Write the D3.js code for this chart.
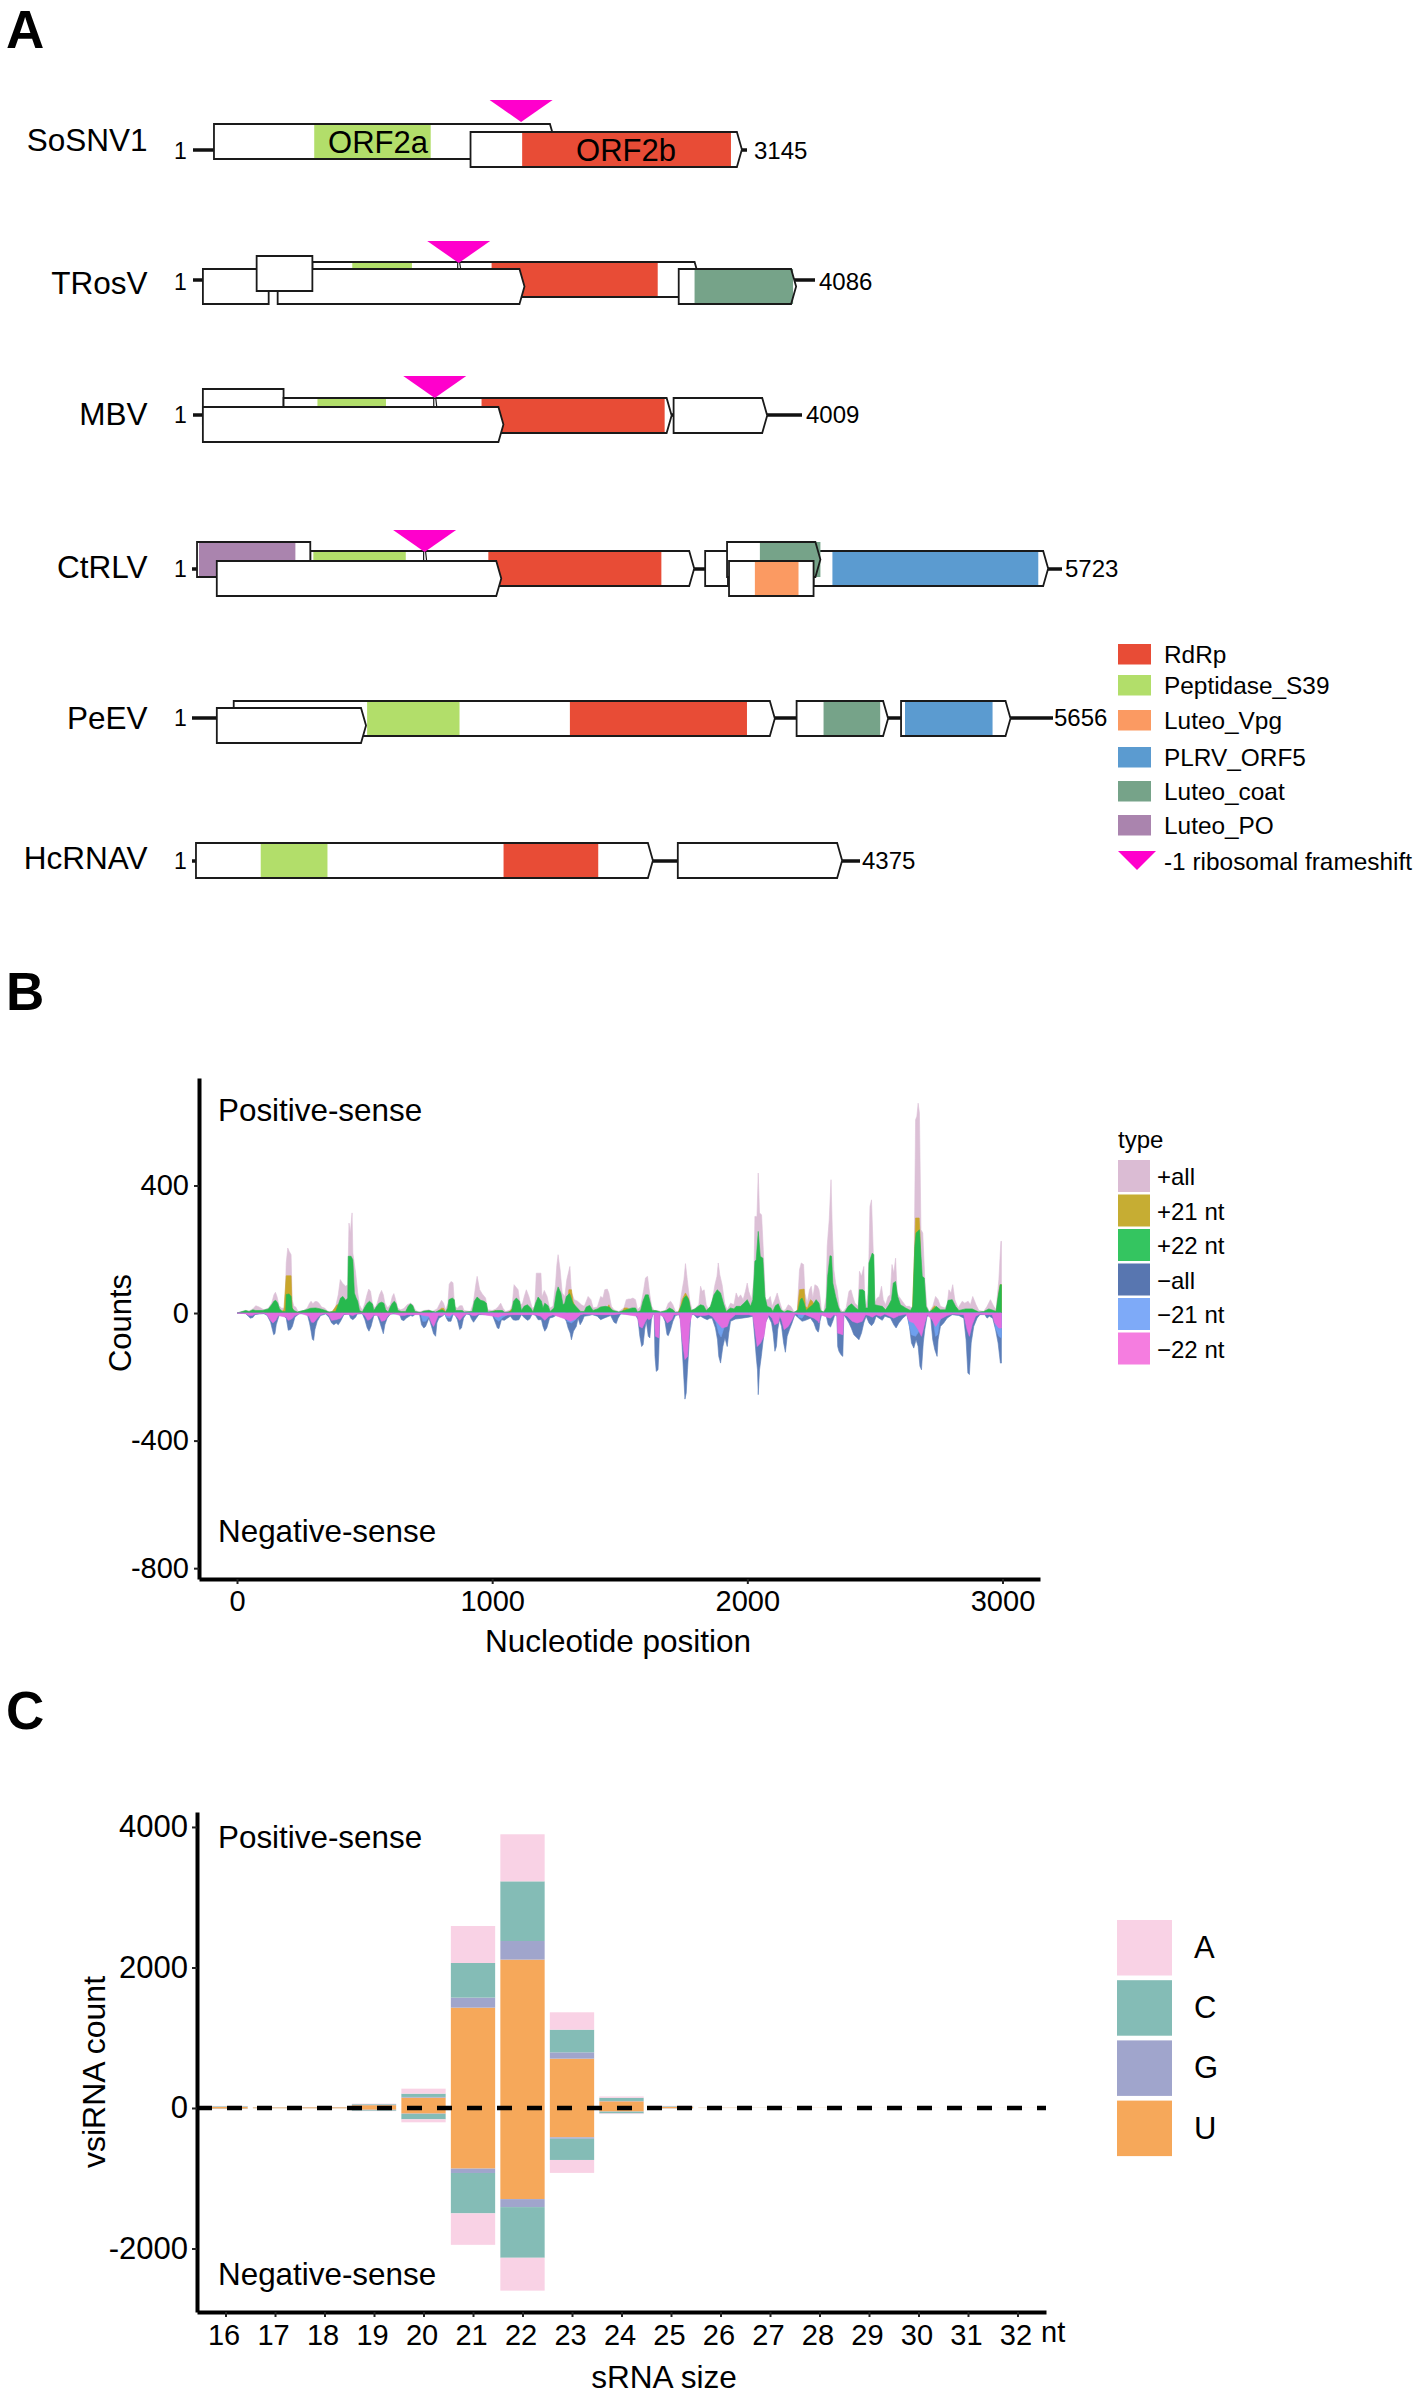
<!DOCTYPE html>
<html>
<head>
<meta charset="utf-8">
<script src="https://cdn.jsdelivr.net/npm/d3@7"></script>
<style>
  body { margin: 0; background: #fff; }
  svg { display: block; }
  text { font-family: "Liberation Sans", Arial, sans-serif; fill: #000; }
  .axis path { stroke: #000; stroke-width: 4; fill: none; }
  .axis line { stroke: #222; stroke-width: 2; }
  .axis text { font-family: "Liberation Sans", Arial, sans-serif; fill: #000; }
</style>
</head>
<body>
<svg id="fig" width="1418" height="2393"></svg>
<script>
// ---- panel A data: genomes, in nucleotides ----
const viruses = ['SoSNV1', 'TRosV', 'MBV', 'CtRLV', 'PeEV', 'HcRNAV'];
const genomeLengths = [3145, 4086, 4009, 5723, 5656, 4375];
// each ORF: [start, end, reading frame row, has arrow tip, domains [start, end, name]]
const orfsSoSNV1 = [
  [120, 2055, 0, true, [[689, 1350, 'Peptidase_S39']]],
  [1576, 3116, 1, true, [[1869, 3054, 'RdRp']]],
];
const orfsTRosV = [
  [785, 3328, 1, true, [[1047, 1439, 'Peptidase_S39'], [1962, 3053, 'RdRp']]],
  [66, 498, 2, false, []],
  [557, 2178, 2, true, []],
  [419, 785, 0, false, []],
  [3191, 3962, 2, true, [[3295, 3942, 'Luteo_coat']]],
];
const orfsMBV = [
  [66, 597, 0, false, []],
  [597, 3151, 1, true, [[820, 1271, 'Peptidase_S39'], [1900, 3105, 'RdRp']]],
  [66, 2044, 2, true, []],
  [3164, 3780, 1, true, []],
];
const orfsCtRLV = [
  [779, 3304, 1, true, [[799, 1407, 'Peptidase_S39'], [1950, 3088, 'RdRp']]],
  [34, 779, 0, false, [[47, 681, 'Luteo_PO']]],
  [3376, 3526, 1, false, []],
  [4089, 5632, 1, true, [[4213, 5567, 'PLRV_ORF5']]],
  [3520, 4134, 0, true, [[3736, 4134, 'Luteo_coat']]],
  [164, 2035, 2, true, []],
  [3533, 4089, 2, false, [[3703, 3990, 'Luteo_Vpg']]],
];
const orfsPeEV = [
  [275, 3829, 0, true, [[1151, 1758, 'Peptidase_S39'], [2483, 3646, 'RdRp']]],
  [164, 1144, 1, true, []],
  [3972, 4573, 0, true, [[4149, 4521, 'Luteo_coat']]],
  [4658, 5377, 0, true, [[4684, 5259, 'PLRV_ORF5']]],
];
const orfsHcRNAV = [
  [27, 3019, 0, true, [[451, 888, 'Peptidase_S39'], [2041, 2661, 'RdRp']]],
  [3182, 4258, 0, true, []],
];
const allOrfs = [orfsSoSNV1, orfsTRosV, orfsMBV, orfsCtRLV, orfsPeEV, orfsHcRNAV];
const frameshiftSites = [1863, 1746, 1592, 1531, null, null];
const orfNames = ['ORF2a', 'ORF2b'];
const domainNames = ['RdRp', 'Peptidase_S39', 'Luteo_Vpg', 'PLRV_ORF5', 'Luteo_coat', 'Luteo_PO'];
const domainColors = ['#e84c36', '#b2de6a', '#fb9a62', '#5b9bd0', '#76a389', '#aa84ae'];

// ---- panel B data: coverage, [nucleotide, count] ----
const plusAll = [[0,0],[34,8],[47,6],[62,13],[73,23],[86,19],[105,10],[122,15],[135,31],[144,57],[150,65],[156,52],[164,23],[174,15],[187,16],[192,157],[198,204],[204,193],[211,183],[215,42],[222,21],[229,19],[238,5],[261,8],[274,16],[283,31],[289,37],[296,29],[304,36],[312,36],[320,31],[330,19],[343,15],[354,5],[372,5],[385,21],[395,57],[403,105],[411,94],[424,84],[432,89],[437,282],[442,251],[449,314],[452,188],[463,125],[471,63],[478,26],[489,8],[499,31],[507,57],[514,75],[521,68],[528,31],[538,15],[547,31],[556,57],[564,71],[571,57],[577,31],[588,16],[598,26],[606,52],[612,61],[619,42],[627,16],[638,10],[651,14],[664,26],[677,31],[686,26],[697,8],[710,3],[729,8],
  [749,10],[762,5],[781,13],[791,29],[798,40],[806,31],[814,10],[823,30],[828,90],[835,99],[843,95],[849,20],[860,15],[869,23],[879,23],[886,8],[911,5],[922,30],[931,85],[937,115],[947,73],[957,60],[970,47],[978,10],[996,8],[1009,12],[1019,20],[1029,31],[1038,15],[1048,5],[1067,10],[1074,25],[1081,89],[1097,73],[1105,25],[1114,30],[1121,52],[1129,73],[1139,52],[1152,15],[1162,20],[1168,125],[1186,125],[1190,50],[1199,71],[1210,52],[1220,15],[1233,21],[1243,90],[1248,150],[1253,183],[1261,135],[1269,63],[1279,52],[1287,105],[1299,146],[1305,65],[1316,42],[1329,37],[1344,26],[1355,21],[1363,37],[1370,52],[1381,42],[1390,16],[1406,19],[1419,52],[1428,47],[1435,73],[1445,75],[1451,63],[1461,21],[1471,10],[1490,5],[1510,16],[1519,42],[1529,44],
  [1536,44],[1545,47],[1555,42],[1563,10],[1575,21],[1587,73],[1594,110],[1602,115],[1610,63],[1618,21],[1627,8],[1640,8],[1653,5],[1672,8],[1683,31],[1692,37],[1701,26],[1711,5],[1724,5],[1735,63],[1744,105],[1750,155],[1757,105],[1766,42],[1776,8],[1789,16],[1802,26],[1809,84],[1815,68],[1823,73],[1831,26],[1841,10],[1854,37],[1865,89],[1873,115],[1878,157],[1884,120],[1893,89],[1903,31],[1913,10],[1926,31],[1939,26],[1948,63],[1956,47],[1965,57],[1975,42],[1984,68],[1991,94],[1997,68],[2008,42],[2017,105],[2021,303],[2029,303],[2034,439],[2039,314],[2047,308],[2055,178],[2062,42],[2073,42],[2081,52],[2088,21],[2099,42],[2108,63],[2117,37],[2128,8],[2140,10],[2151,26],[2161,21],[2173,5],[2186,5],[2195,136],[2202,157],[2211,152],[2216,63],[2225,31],[2234,73],[2241,84],[2247,47],[2255,89],[2265,84],
  [2271,73],[2275,52],[2281,5],[2290,5],[2299,52],[2303,209],[2311,293],[2318,418],[2323,261],[2329,136],[2336,94],[2342,73],[2351,16],[2364,3],[2377,16],[2388,68],[2396,73],[2403,52],[2411,31],[2424,21],[2429,131],[2437,115],[2446,146],[2450,31],[2455,21],[2463,63],[2470,334],[2476,355],[2483,188],[2489,31],[2498,47],[2507,52],[2515,84],[2522,42],[2531,26],[2541,52],[2549,57],[2556,152],[2563,125],[2570,172],[2576,63],[2583,52],[2596,37],[2611,21],[2624,21],[2632,16],[2641,31],[2648,606],[2653,617],[2658,658],[2663,627],[2669,261],[2676,251],[2684,105],[2692,21],[2702,5],[2715,21],[2726,52],[2736,42],[2745,21],[2762,16],[2771,26],[2778,73],[2786,63],[2793,89],[2801,42],[2814,16],[2830,37],[2840,31],[2853,37],[2862,26],[2871,52],[2884,26],[2895,8],[2914,5],[2927,21],[2940,42],[2953,21],[2962,10],[2973,105],[2981,225],[2983,225]];
const plus21 = [[165,0],[183,10],[192,117],[211,117],[215,16],[222,5],[240,0],[360,0],[372,5],[382,16],[390,26],[398,26],[406,10],[420,0],[780,0],[788,8],[798,15],[806,15],[814,3],[825,0],[985,0],[996,3],[1009,8],[1015,3],[1025,0],[1050,0],[1061,3],[1069,10],[1077,12],[1087,10],[1095,0],[1285,0],[1295,73],[1305,73],[1311,37],[1321,16],[1329,5],[1340,0],[1435,0],[1445,15],[1451,26],[1459,13],[1470,0],[1495,0],[1503,3],[1511,16],[1522,16],[1529,13],[1540,0],[1720,0],[1731,20],[1737,42],[1750,63],[1761,47],[1769,10],[1780,0],[2175,0],[2186,3],[2195,73],[2213,75],[2218,21],[2226,16],[2238,42],[2245,37],[2252,26],[2262,0],[2635,0],[2645,209],[2648,298],[2662,298],[2665,251],[2669,110],[2680,0],[2705,0],[2715,16],[2723,23],[2735,0],[2955,0],[2965,10],[2973,63],[2978,89],[2983,89]];
const plus22 = [[0,0],[34,8],[47,5],[62,10],[73,8],[99,8],[122,13],[135,26],[144,37],[151,40],[159,31],[166,13],[177,5],[190,5],[192,58],[203,60],[211,52],[215,16],[222,8],[235,3],[270,10],[287,15],[307,16],[326,13],[346,8],[359,3],[385,5],[395,26],[404,47],[413,52],[424,40],[432,47],[434,178],[445,178],[452,167],[458,63],[465,47],[471,37],[478,8],[489,3],[499,19],[508,31],[517,37],[528,29],[534,8],[543,19],[554,31],[564,34],[573,31],[580,10],[590,3],[598,19],[606,31],[614,37],[621,29],[628,8],[641,5],[658,5],[668,21],[677,29],[686,23],[694,5],[716,2],[729,6],[749,8],
  [775,3],[788,8],[801,10],[814,3],[822,16],[827,42],[840,47],[848,42],[853,8],[866,8],[879,8],[886,3],[918,5],[926,37],[937,50],[951,40],[964,37],[973,31],[979,3],[1015,8],[1035,8],[1045,2],[1071,5],[1079,37],[1090,47],[1103,37],[1110,8],[1120,21],[1133,26],[1146,16],[1155,3],[1165,31],[1175,50],[1188,37],[1194,16],[1201,31],[1214,23],[1222,5],[1237,16],[1246,63],[1253,82],[1264,63],[1272,26],[1279,31],[1285,52],[1298,61],[1311,31],[1328,16],[1341,5],[1355,5],[1363,19],[1376,24],[1389,8],[1406,13],[1419,19],[1438,21],[1451,19],[1467,8],[1490,3],[1510,8],[1529,13],
  [1542,16],[1555,16],[1563,3],[1575,8],[1584,37],[1594,57],[1605,57],[1613,31],[1620,8],[1633,8],[1653,3],[1675,8],[1688,16],[1701,10],[1711,2],[1724,3],[1735,26],[1744,47],[1753,54],[1763,42],[1771,8],[1787,13],[1800,21],[1809,26],[1821,23],[1831,8],[1848,21],[1861,57],[1874,73],[1887,63],[1900,26],[1909,5],[1926,16],[1939,13],[1948,21],[1965,21],[1978,31],[1991,42],[2004,21],[2013,42],[2021,162],[2026,167],[2034,256],[2042,178],[2052,172],[2060,52],[2069,21],[2083,16],[2091,5],[2101,23],[2112,29],[2122,10],[2135,3],[2147,8],[2160,6],[2173,2],[2190,10],[2198,42],[2205,47],[2213,31],[2221,8],[2231,16],[2247,26],[2260,42],
  [2271,31],[2277,8],[2290,3],[2299,16],[2305,115],[2314,180],[2320,178],[2325,94],[2336,52],[2346,21],[2355,3],[2372,3],[2385,21],[2398,29],[2414,16],[2424,10],[2429,73],[2442,73],[2449,68],[2453,16],[2462,16],[2466,157],[2479,188],[2485,183],[2489,26],[2505,23],[2518,21],[2531,10],[2544,26],[2554,42],[2561,94],[2570,99],[2578,52],[2589,26],[2609,16],[2628,8],[2637,21],[2645,209],[2650,251],[2656,256],[2663,261],[2674,115],[2682,110],[2689,21],[2700,3],[2719,13],[2728,21],[2745,10],[2765,10],[2775,40],[2791,42],[2804,21],[2817,8],[2843,13],[2869,13],[2882,8],[2895,3],[2914,5],[2934,13],[2953,8],[2962,5],[2970,52],[2978,89],[2983,89]];
const minusAll = [[0,0],[34,-2],[44,-10],[52,-16],[62,-14],[70,-5],[86,-3],[105,-2],[118,-8],[131,-29],[138,-52],[143,-68],[148,-65],[153,-37],[164,-8],[177,-5],[192,-16],[200,-54],[209,-52],[216,-42],[226,-13],[242,-2],[274,-3],[283,-31],[289,-57],[294,-82],[299,-86],[304,-52],[313,-26],[326,-8],[346,-3],[359,-13],[369,-31],[378,-37],[387,-31],[395,-37],[404,-26],[417,-5],[437,-3],[443,-16],[452,-21],[463,-13],[469,-3],[489,-2],[499,-21],[508,-47],[515,-57],[523,-42],[534,-8],[547,-5],[556,-26],[564,-47],[571,-65],[577,-37],[586,-16],[599,-3],[634,-3],[642,-21],[651,-24],[660,-16],[677,-8],[686,-10],[697,-3],[712,-3],[720,-37],[729,-47],[736,-42],[749,-16],
  [759,-42],[767,-65],[775,-73],[780,-31],[788,-16],[801,-10],[811,-3],[817,-16],[824,-26],[835,-26],[843,-5],[850,-5],[860,-21],[869,-52],[876,-47],[884,-16],[895,-3],[908,-5],[915,-19],[923,-29],[934,-16],[944,-5],[970,-5],[996,-5],[1006,-26],[1016,-47],[1022,-49],[1032,-21],[1043,-23],[1055,-16],[1067,-10],[1077,-21],[1087,-23],[1100,-21],[1110,-5],[1123,-16],[1134,-23],[1142,-19],[1152,-3],[1165,-8],[1175,-21],[1188,-21],[1194,-42],[1201,-57],[1209,-47],[1220,-16],[1233,-13],[1250,-5],[1269,-3],[1285,-26],[1292,-47],[1300,-63],[1305,-84],[1313,-57],[1324,-42],[1331,-16],[1339,-37],[1347,-26],[1355,-10],[1373,-8],[1386,-5],[1406,-10],[1419,-21],[1432,-16],[1458,-8],[1471,-29],[1480,-33],[1487,-16],[1497,-3],[1516,-3],[1529,-5],
  [1555,-5],[1565,-21],[1572,-73],[1579,-105],[1585,-99],[1591,-52],[1597,-26],[1605,-73],[1611,-78],[1617,-21],[1623,-3],[1628,-5],[1631,-136],[1636,-183],[1643,-178],[1646,-125],[1650,-5],[1659,-5],[1670,-26],[1678,-68],[1683,-71],[1692,-52],[1701,-26],[1711,-8],[1724,-5],[1731,-21],[1737,-105],[1744,-209],[1748,-270],[1753,-251],[1758,-178],[1765,-84],[1771,-5],[1783,-5],[1796,-16],[1809,-10],[1822,-16],[1835,-21],[1845,-16],[1854,-16],[1867,-47],[1875,-84],[1880,-136],[1887,-157],[1896,-105],[1904,-78],[1913,-105],[1919,-63],[1926,-26],[1945,-19],[1971,-16],[1997,-13],[2013,-10],[2021,-84],[2026,-136],[2031,-178],[2034,-256],[2039,-178],[2046,-136],[2052,-94],[2062,-31],[2073,-10],[2086,-31],[2092,-63],[2099,-120],[2105,-105],[2110,-52],[2117,-21],[2125,-42],[2133,-94],[2140,-123],[2147,-73],[2156,-52],[2166,-31],[2177,-5],[2192,-16],[2205,-26],[2218,-23],[2238,-16],[2251,-31],[2260,-52],[2268,-60],
  [2271,-52],[2275,-26],[2281,-5],[2299,-8],[2307,-37],[2316,-44],[2325,-26],[2333,-5],[2341,-10],[2344,-105],[2349,-120],[2357,-131],[2364,-136],[2368,-5],[2377,-16],[2388,-31],[2397,-47],[2407,-68],[2416,-75],[2427,-84],[2437,-63],[2446,-31],[2455,-10],[2466,-31],[2476,-40],[2485,-31],[2494,-10],[2505,-16],[2518,-23],[2528,-10],[2550,-16],[2563,-37],[2572,-47],[2583,-31],[2598,-16],[2614,-5],[2624,-42],[2632,-94],[2641,-110],[2650,-84],[2658,-105],[2665,-167],[2671,-178],[2678,-94],[2684,-52],[2693,-10],[2706,-8],[2715,-84],[2723,-115],[2732,-136],[2736,-84],[2745,-42],[2758,-31],[2771,-16],[2791,-5],[2817,-8],[2836,-16],[2845,-84],[2852,-188],[2858,-193],[2865,-94],[2875,-42],[2888,-16],[2899,-5],[2918,-5],[2927,-16],[2936,-10],[2949,-16],[2960,-52],[2970,-94],[2979,-157],[2983,-157]];
const minus21 = [[716,0],[725,-26],[736,-26],[749,-13],[765,0],[810,0],[817,-13],[830,-16],[840,-5],[850,0],[1002,0],[1006,-16],[1022,-26],[1038,-13],[1055,-5],[1067,0],[1282,0],[1289,-26],[1305,-31],[1321,-21],[1334,0],[1854,0],[1870,-31],[1880,-63],[1889,-75],[1900,-47],[1909,-21],[1919,-10],[1932,0],[2186,0],[2192,-13],[2205,-16],[2218,0],[2615,0],[2624,-42],[2632,-68],[2648,-73],[2661,-57],[2674,-60],[2684,-20],[2693,0],[2713,0],[2726,-73],[2734,-68],[2741,-31],[2752,0],[2953,0],[2960,-47],[2973,-73],[2983,-78]];
const minus22 = [[0,0],[34,-2],[47,-8],[60,-8],[70,-3],[105,0],[118,-6],[131,-23],[140,-31],[151,-23],[161,-8],[192,-13],[200,-23],[213,-19],[226,-8],[250,-1],[281,-10],[291,-29],[300,-29],[313,-16],[326,-5],[345,-1],[359,-8],[369,-23],[385,-21],[404,-16],[417,-3],[439,-5],[452,-8],[465,-3],[485,0],[499,-8],[510,-23],[521,-19],[534,-5],[554,-10],[564,-26],[577,-23],[590,-8],[610,-1],[638,-8],[651,-8],[664,-5],[716,-5],[729,-8],[749,-10],
  [759,-31],[767,-42],[778,-21],[785,-8],[801,-8],[811,-2],[817,-8],[830,-10],[840,-3],[856,-10],[869,-23],[882,-10],[895,-3],[908,-3],[918,-8],[931,-8],[944,-3],[1002,-10],[1019,-13],[1035,-8],[1074,-5],[1120,-5],[1136,-5],[1165,-5],[1185,-10],[1201,-23],[1217,-10],[1233,-5],[1289,-21],[1302,-26],[1321,-19],[1341,-5],[1353,-3],[1412,-5],[1471,-5],[1497,-2],
  [1562,-10],[1571,-42],[1581,-47],[1594,-26],[1601,-16],[1607,-21],[1617,-16],[1623,-3],[1628,-5],[1633,-73],[1646,-78],[1650,-5],[1666,-13],[1679,-31],[1696,-21],[1705,-5],[1727,-5],[1737,-84],[1748,-146],[1758,-136],[1767,-31],[1776,-3],[1796,-8],[1822,-8],[1841,-5],[1854,-10],[1870,-26],[1893,-47],[1913,-42],[1922,-21],[1945,-5],[1997,-5],[2013,-8],[2021,-52],[2030,-105],[2043,-94],[2056,-73],[2065,-26],[2075,-5],[2088,-16],[2098,-37],[2112,-31],[2118,-10],[2125,-21],[2135,-52],[2151,-42],[2166,-21],[2177,-3],[2218,-5],[2251,-16],[2268,-26],
  [2271,-31],[2277,-5],[2303,-13],[2316,-16],[2329,-5],[2341,-8],[2344,-63],[2364,-68],[2368,-5],[2381,-10],[2401,-26],[2420,-31],[2440,-26],[2453,-5],[2466,-8],[2479,-13],[2494,-5],[2511,-10],[2528,-3],[2563,-16],[2583,-8],[2611,-3],[2624,-26],[2641,-31],[2658,-52],[2671,-73],[2684,-31],[2693,-5],[2713,-21],[2726,-42],[2745,-19],[2771,-8],[2791,-3],[2836,-5],[2849,-52],[2858,-73],[2869,-37],[2882,-10],[2899,-3],[2921,-5],[2947,-5],[2957,-31],[2973,-47],[2983,-47]];
const coverageTypes = ['+all', '+21 nt', '+22 nt', '\u2212all', '\u221221 nt', '\u221222 nt'];
const coverageSeries = [plusAll, plus21, plus22, minusAll, minus21, minus22];
const coverageColors = ['#dcc0d6', '#c9a62b', '#27b94e', '#5b7db8', '#6fa0ee', '#e26de0'];
const coverageSwatches = ['#dbbcd4', '#c6ad33', '#34c560', '#5876b0', '#7eaaf8', '#f57de0'];
const coverageXTicks = [0, 1000, 2000, 3000];
const coverageYTicks = [-800, -400, 0, 400];

// ---- panel C data ----
const sizes = [16,17,18,19,20,21,22,23,24,25,26,27,28,29,30,31,32];
const posU = [15,8,10,40,147,1428,2112,702,95,15,3,2,2,1,1,1,1];
const posG = [3,1,1,8,10,143,265,90,5,3,0,0,0,0,0,0,0];
const posC = [8,2,2,8,47,493,849,323,45,8,1,1,0,0,0,0,0];
const posA = [4,1,2,6,71,526,670,247,19,5,1,0,0,0,0,0,0];
const negU = [-10,-4,-5,-25,-80,-863,-1297,-418,-50,-5,-1,0,0,0,0,0,0];
const negG = [-1,0,0,-3,-5,-62,-114,-20,-3,-1,0,0,0,0,0,0,0];
const negC = [-3,-1,-1,-12,-76,-575,-721,-302,-25,-2,0,0,0,0,0,0,0];
const negA = [-2,0,-1,-5,-43,-448,-468,-184,-9,-1,0,0,0,0,0,0,0];
const bases = ['A', 'C', 'G', 'U'];
const baseColors = ['#f9d2e5', '#84bcb6', '#a0a5cc', '#f6a85a'];
const countTicks = [-2000, 0, 2000, 4000];

const svg = d3.select('#fig');

function addText(x, y, str, size, anchor) {
  return svg.append('text')
    .attr('x', x)
    .attr('y', y)
    .attr('font-size', size)
    .attr('text-anchor', anchor || 'start')
    .text(str);
}

// panel letters
[['A', 48], ['B', 1010], ['C', 1729]].forEach((d) => {
  addText(6, d[1], d[0], 53).attr('font-weight', 'bold');
});

// ---------- Panel A ----------
const domainColor = d3.scaleOrdinal().domain(domainNames).range(domainColors);
// where each genome sits on the page
const genomeLayout = [
  { range: [193, 747], tops: [124, 132], lineY: 150, nameY: 151, numX: 754, numY: 159, apexY: 122, notch: 0 },
  { range: [193, 815], tops: [256, 262, 269], lineY: 280, nameY: 294, numX: 819, numY: 290, apexY: 263, notch: 6 },
  { range: [193, 802], tops: [389, 398, 407], lineY: 415, nameY: 425, numX: 806, numY: 423, apexY: 398, notch: 9 },
  { range: [192, 1062], tops: [542, 551, 561], lineY: 569, nameY: 578, numX: 1065, numY: 577, apexY: 552, notch: 9 },
  { range: [192, 1053], tops: [701, 708], lineY: 718, nameY: 729, numX: 1054, numY: 726, apexY: null, notch: 0 },
  { range: [192, 860], tops: [843], lineY: 861, nameY: 869, numX: 862, numY: 869, apexY: null, notch: 0 },
];
const orfHeight = 35;
const tipWidth = 5;
const triHalf = 31.5;
const triHeight = 22;

viruses.forEach((name, i) => {
  const lay = genomeLayout[i];
  const x = d3.scaleLinear().domain([1, genomeLengths[i]]).range(lay.range);

  addText(147.5, lay.nameY, name, 31.5, 'end');
  addText(174, lay.numY, '1', 23);
  addText(lay.numX, lay.numY, String(genomeLengths[i]), 24);

  svg.append('line')
    .attr('x1', x(1)).attr('x2', x(genomeLengths[i]))
    .attr('y1', lay.lineY).attr('y2', lay.lineY)
    .attr('stroke', '#111').attr('stroke-width', 3.5);

  const g = svg.append('g');
  allOrfs[i].forEach((orf) => {
    const x0 = x(orf[0]);
    const x1 = x(orf[1]);
    const top = lay.tops[orf[2]];
    const bot = top + orfHeight;
    const pts = orf[3]
      ? [[x0, top], [x1 - tipWidth, top], [x1, (top + bot) / 2], [x1 - tipWidth, bot], [x0, bot]]
      : [[x0, top], [x1, top], [x1, bot], [x0, bot]];
    const outline = 'M' + pts.join('L') + 'Z';

    g.append('path').attr('d', outline).attr('fill', '#fff');
    orf[4].forEach((dom) => {
      g.append('rect')
        .attr('x', x(dom[0]))
        .attr('y', top)
        .attr('width', x(dom[1]) - x(dom[0]))
        .attr('height', orfHeight)
        .attr('fill', domainColor(dom[2]));
    });
    g.append('path')
      .attr('d', outline)
      .attr('fill', 'none')
      .attr('stroke', '#1a1a1a')
      .attr('stroke-width', 1.8);
  });

  if (frameshiftSites[i] !== null) {
    const ax = x(frameshiftSites[i]);
    if (lay.notch) {
      svg.append('path')
        .attr('d', `M${ax - 1},${lay.apexY}L${ax - 1},${lay.apexY + lay.notch}M${ax + 1},${lay.apexY}L${ax + 2},${lay.apexY + lay.notch}`)
        .attr('stroke', '#1a1a1a').attr('stroke-width', 1.2).attr('fill', 'none');
    }
    svg.append('path')
      .attr('d', `M${ax - triHalf},${lay.apexY - triHeight}L${ax + triHalf},${lay.apexY - triHeight}L${ax},${lay.apexY}Z`)
      .attr('fill', '#ff00cc');
  }
});

// ORF names written inside the first genome
addText(378, 153, orfNames[0], 31, 'middle');
addText(626, 161, orfNames[1], 31, 'middle');

// legend A
const legendATops = [644, 675, 710, 747, 781, 815];
domainNames.forEach((d, i) => {
  svg.append('rect')
    .attr('x', 1118).attr('y', legendATops[i])
    .attr('width', 33).attr('height', 20.5)
    .attr('fill', domainColors[i]);
  addText(1164, legendATops[i] + 18.5, d, 24.4);
});
svg.append('path').attr('d', 'M1118,851L1156,851L1137,870Z').attr('fill', '#ff00cc');
addText(1164, 870, '-1 ribosomal frameshift', 24.4);

// ---------- Panel B ----------
const xB = d3.scaleLinear().domain([-149, 3147]).range([199, 1040]);
const yB = d3.scaleLinear().domain([737, -834]).range([1078, 1579]);
// positions above were read against a slightly narrower tick spacing
const readCal = 1.0043;
const areaB = d3.area()
  .x((d) => xB(d[0] * readCal))
  .y0(yB(0))
  .y1((d) => yB(d[1]));

svg.append('g').selectAll('path')
  .data(coverageSeries)
  .join('path')
  .attr('d', areaB)
  .attr('fill', (d, i) => coverageColors[i])
  .attr('stroke', (d, i) => coverageColors[i])
  .attr('stroke-width', 0.6);

const xAxisB = svg.append('g')
  .attr('class', 'axis')
  .attr('transform', `translate(0,${yB.range()[1]})`)
  .call(d3.axisBottom(xB).tickValues(coverageXTicks).tickSize(5).tickSizeOuter(0).tickPadding(6).tickFormat(String));
xAxisB.selectAll('text').attr('font-size', 29);
const yAxisB = svg.append('g')
  .attr('class', 'axis')
  .attr('transform', `translate(${xB.range()[0]},0)`)
  .call(d3.axisLeft(yB).tickValues(coverageYTicks).tickSize(5).tickSizeOuter(0).tickPadding(5).tickFormat(String));
yAxisB.selectAll('text').attr('font-size', 29);

addText(218, 1121, 'Positive-sense', 31.4);
addText(218, 1542, 'Negative-sense', 31.4);
addText(618, 1652, 'Nucleotide position', 31.5, 'middle');
addText(0, 0, 'Counts', 31, 'middle').attr('transform', 'translate(131,1323) rotate(-90)');

// legend B
addText(1118, 1148, 'type', 24);
coverageTypes.forEach((d, i) => {
  const top = 1160 + i * 34.5;
  svg.append('rect')
    .attr('x', 1118).attr('y', top)
    .attr('width', 32).attr('height', 32)
    .attr('fill', coverageSwatches[i]);
  addText(1157, top + 25, d, 24);
});

// ---------- Panel C ----------
const xC = d3.scaleLinear().domain([15.424, 32.576]).range([197, 1046]);
const yC = d3.scaleLinear().domain([4213, -2904]).range([1812, 2312]);
const barW = (xC(17) - xC(16)) * 0.895;

// stack keys run from the baseline out: U, G, C, A
const stackKeys = ['U', 'G', 'C', 'A'];
const toRows = (u, g, c, a) => sizes.map((s, i) => ({ size: s, U: u[i], G: g[i], C: c[i], A: a[i] }));
const stack = d3.stack().keys(stackKeys).offset(d3.stackOffsetDiverging);
const baseColor = d3.scaleOrdinal().domain(bases).range(baseColors);

[toRows(posU, posG, posC, posA), toRows(negU, negG, negC, negA)].forEach((rows) => {
  svg.append('g').selectAll('g')
    .data(stack(rows))
    .join('g')
    .attr('fill', (d) => baseColor(d.key))
    .selectAll('rect')
    .data((d) => d)
    .join('rect')
    .attr('x', (d) => xC(d.data.size) - barW / 2)
    .attr('width', barW)
    .attr('y', (d) => yC(Math.max(d[0], d[1])))
    .attr('height', (d) => Math.abs(yC(d[0]) - yC(d[1])));
});

svg.append('line')
  .attr('x1', xC.range()[0]).attr('x2', xC.range()[1])
  .attr('y1', yC(0)).attr('y2', yC(0))
  .attr('stroke', '#000')
  .attr('stroke-width', 4.5)
  .attr('stroke-dasharray', '15,15');

const xAxisC = svg.append('g')
  .attr('class', 'axis')
  .attr('transform', `translate(0,${yC.range()[1]})`)
  .call(d3.axisBottom(xC).tickValues(sizes).tickSize(5).tickSizeOuter(0).tickPadding(7).tickFormat(String));
xAxisC.selectAll('text').attr('font-size', 29).attr('dx', -2);
const yAxisC = svg.append('g')
  .attr('class', 'axis')
  .attr('transform', `translate(${xC.range()[0]},0)`)
  .call(d3.axisLeft(yC).tickValues(countTicks).tickSize(5).tickSizeOuter(0).tickPadding(4).tickFormat(String));
yAxisC.selectAll('text').attr('font-size', 31);

addText(1041, 2342, 'nt', 29);
addText(218, 1848, 'Positive-sense', 31.4);
addText(218, 2285, 'Negative-sense', 31.4);
addText(664, 2388, 'sRNA size', 31.6, 'middle');
addText(0, 0, 'vsiRNA count', 32, 'middle').attr('transform', 'translate(105,2072) rotate(-90)');

// legend C
bases.forEach((d, i) => {
  const top = 1920 + i * 60.2;
  svg.append('rect')
    .attr('x', 1117).attr('y', top)
    .attr('width', 55).attr('height', 55.5)
    .attr('fill', baseColors[i]);
  addText(1194, top + 38, d, 31);
});
</script>
</body>
</html>
